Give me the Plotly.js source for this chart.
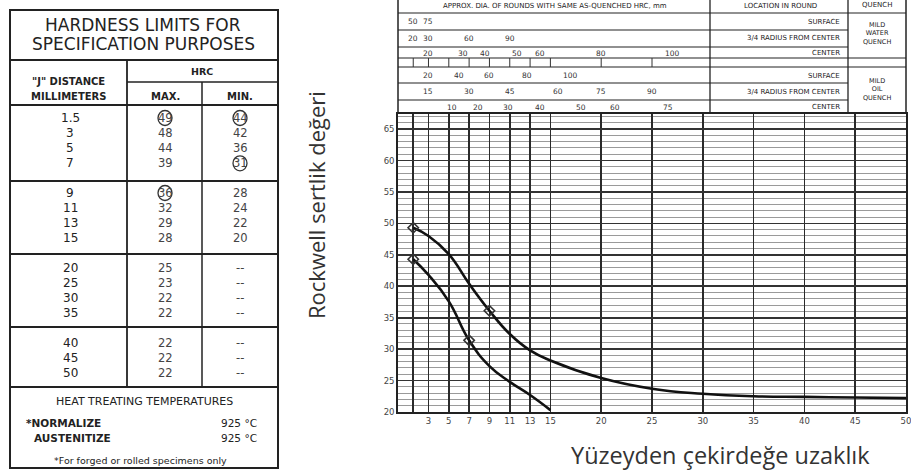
<!DOCTYPE html>
<html><head><meta charset="utf-8">
<script src="https://cdn.plot.ly/plotly-3.0.1.min.js"></script>
<style>html,body{margin:0;padding:0;background:#fff;}#chart{width:911px;height:475px;}</style>
</head><body><div id="chart"></div>
<script>
// ---------- DATA ----------
// table (hardness limits for specification purposes)
const jDist  = [1.5, 3, 5, 7, 9, 11, 13, 15, 20, 25, 30, 35, 40, 45, 50];
const hrcMax = [49, 48, 44, 39, 36, 32, 29, 28, 25, 23, 22, 22, 22, 22, 22];
const hrcMin = [44, 42, 36, 31, 28, 24, 22, 20, null, null, null, null, null, null, null];
const circledMax = [1.5, 9];
const circledMin = [1.5, 7];
const rowGroups = [4, 4, 4, 3];
// band curves as drawn on the chart
const curveMaxJ = [1.5, 3, 5, 7, 9, 11, 13, 15, 20, 25, 30, 35, 40, 45, 50];
const curveMax  = [49.3, 48.0, 45.1, 40.4, 36.1, 32.4, 29.8, 28.2, 25.4, 23.7, 22.9, 22.5, 22.4, 22.3, 22.2];
const curveMinJ = [1.5, 3, 5, 7, 9, 11, 13, 15];
const curveMin  = [44.3, 41.8, 37.6, 31.4, 27.3, 24.8, 22.7, 20.3];
// axes
const xTickVals = [1.5, 3, 5, 7, 9, 11, 13, 15, 20, 25, 30, 35, 40, 45, 50];
const xTickText = ['', '3', '5', '7', '9', '11', '13', '15', '20', '25', '30', '35', '40', '45', '50'];
// header diameter scales (label, J-distance where it sits)
const wSurfLab = ['50', '75'];            const wSurfJ = [1.5, 3];
const wRadLab  = ['20', '30', '60', '90']; const wRadJ  = [1.5, 3, 7, 11];
const wCenLab  = ['20', '30', '40', '50', '60', '80', '100']; const wCenJ = [3, 6.4, 8.6, 11.7, 14, 20, 27];
const oSurfLab = ['20', '40', '60', '80', '100']; const oSurfJ = [3, 6, 9, 12.7, 17];
const oRadLab  = ['15', '30', '45', '60', '75', '90']; const oRadJ = [3, 7, 11, 15.7, 20, 25];
const oCenLab  = ['10', '20', '30', '40', '50', '60', '75']; const oCenJ = [5.3, 7.9, 10.8, 14, 18, 21.4, 26.6];
const locLabels = ['SURFACE', '3/4 RADIUS FROM CENTER', 'CENTER'];

// ---------- GEOMETRY HELPERS ----------
const L = 398, R = 906, T = 114, B = 412;
const px = x => (x - L) / (R - L);
const py = y => (B - y) / (B - T);
const shapes = [];
const ann = [];
const FONT = 'DejaVu Sans';
function hl(x0, x1, y, w, c) { shapes.push({type:'line', xref:'paper', yref:'paper', x0:px(x0), x1:px(x1), y0:py(y), y1:py(y), line:{color:c||'#222', width:w||1.2}}); }
function vl(x, y0, y1, w, c) { shapes.push({type:'line', xref:'paper', yref:'paper', x0:px(x), x1:px(x), y0:py(y0), y1:py(y1), line:{color:c||'#222', width:w||1.2}}); }
function txt(text, x, y, size, opts) {
  opts = opts || {};
  ann.push(Object.assign({text:text, xref:'paper', yref:'paper', x:px(x), y:py(y), showarrow:false,
    xanchor:'center', yanchor:'middle', font:{family:opts.family||FONT, size:size, color:opts.color||'#222'}}, opts.extra||{}));
}

// ---------- LEFT TABLE ----------
shapes.push({type:'rect', xref:'paper', yref:'paper', x0:px(10), x1:px(278), y0:py(10), y1:py(468), line:{color:'#222', width:2}});
hl(10, 278, 60, 1.8);
hl(127, 278, 82, 1.3);
hl(10, 278, 105, 2.2);
hl(10, 278, 181, 1.8);
hl(10, 278, 254, 1.8);
hl(10, 278, 327, 1.8);
hl(10, 278, 387, 2.2);
vl(127, 60, 387, 1.8);
vl(202, 82, 387, 1.5);
txt('HARDNESS LIMITS FOR', 143, 25, 17);
txt('SPECIFICATION PURPOSES', 143, 44, 17);
txt('<b>"J" DISTANCE</b>', 68, 82, 10);
txt('<b>MILLIMETERS</b>', 68, 96, 10);
txt('<b>HRC</b>', 202, 71, 9.5);
txt('<b>MAX.</b>', 165, 96, 10);
txt('<b>MIN.</b>', 240, 96, 10);
const rowY = [];
rowGroups.forEach((n, g) => {
  for (let k = 0; k < n; k++) { rowY.push(118 + g * 75 + k * 15.1); }
});
jDist.forEach((d, i) => {
  const y = rowY[i];
  txt(String(d), 70, y, 12);
  txt(String(hrcMax[i]), 165, y, 11.5, {color:'#444'});
  txt(hrcMin[i] === null ? '--' : String(hrcMin[i]), 240, y, 11.5, {color:'#444'});
});
function circ(cx, cy) {
  shapes.push({type:'circle', xref:'paper', yref:'paper', x0:px(cx-7), x1:px(cx+7), y0:py(cy+7.5), y1:py(cy-7.5), line:{color:'#333', width:1.3}});
}
circledMax.forEach(d => circ(165, rowY[jDist.indexOf(d)]));
circledMin.forEach(d => circ(240, rowY[jDist.indexOf(d)]));
txt('HEAT TREATING TEMPERATURES', 144, 401, 11);
txt('<b>*NORMALIZE</b>', 24, 423, 10.5, {extra:{xanchor:'left'}});
txt('925 °C', 259, 423, 10.5, {extra:{xanchor:'right'}});
txt('<b>AUSTENITIZE</b>', 32, 438, 10.5, {extra:{xanchor:'left'}});
txt('925 °C', 259, 438, 10.5, {extra:{xanchor:'right'}});
txt('*For forged or rolled specimens only', 140, 460, 9.5);

// ---------- HEADER ABOVE PLOT ----------
const hRows = [13, 30, 47, 58, 67, 83, 100];
hRows.forEach(y => hl(L, 848, y, 1.1));
[13, 58, 67].forEach(y => hl(848, R, y, 1.1));
vl(L, 0, T, 1.5);
vl(710, 0, T, 1.3);
vl(848, 0, T, 1.3);
vl(R, 0, T, 1.5);
// tick marks in separator band
xTickVals.filter(v => v <= 25).forEach(v => {
  shapes.push({type:'line', xref:'x', yref:'paper', x0:v, x1:v, y0:py(58), y1:py(67), line:{color:'#333', width:1}});
});
txt('APPROX. DIA. OF ROUNDS WITH SAME AS-QUENCHED HRC, mm', 555, 6, 7);
txt('LOCATION IN ROUND', 780, 6, 7);
txt('QUENCH', 877, 5, 7);
function scaleRow(labels, js, y) {
  labels.forEach((lab, i) => ann.push({text:lab, xref:'x', yref:'paper', x:js[i], y:py(y), showarrow:false,
    xanchor:'center', yanchor:'middle', font:{family:FONT, size:7.5, color:'#333'}}));
}
scaleRow(wSurfLab, wSurfJ, 21.5);
scaleRow(wRadLab, wRadJ, 38.5);
scaleRow(wCenLab, wCenJ, 53);
scaleRow(oSurfLab, oSurfJ, 75.5);
scaleRow(oRadLab, oRadJ, 91.5);
scaleRow(oCenLab, oCenJ, 107);
[[21.5, 0], [38.5, 1], [53, 2], [75.5, 0], [91.5, 1], [107, 2]].forEach(([y, k]) => {
  txt(locLabels[k], 842, y, 7, {extra:{xanchor:'right'}});
});
txt('MILD<br>WATER<br>QUENCH', 877, 34, 6.5);
txt('MILD<br>OIL<br>QUENCH', 877, 90, 6.5);

// ---------- AXIS TITLES ----------
txt('Rockwell sertlik değeri', 316, 205, 22, {color:'#333', family:'Open Sans', extra:{textangle:-90}});
txt('Yüzeyden çekirdeğe uzaklık', 720, 455, 23.5, {color:'#333', family:'Open Sans'});

// ---------- TRACES ----------
const traces = [
  {x: curveMaxJ, y: curveMax, mode:'lines', name:'MAX', line:{color:'#111', width:2.6, shape:'spline', smoothing:1.3}},
  {x: curveMinJ, y: curveMin, mode:'lines', name:'MIN', line:{color:'#111', width:2.6, shape:'spline', smoothing:1.3}},
  {x: circledMax, y: circledMax.map(d => curveMax[curveMaxJ.indexOf(d)]), mode:'markers', name:'MAX pts',
   marker:{symbol:'diamond-open', size:8, color:'#333', line:{width:1.6, color:'#333'}}},
  {x: circledMin, y: circledMin.map(d => curveMin[curveMinJ.indexOf(d)]), mode:'markers', name:'MIN pts',
   marker:{symbol:'diamond-open', size:8, color:'#333', line:{width:1.6, color:'#333'}}}
];

const layout = {
  width: 911, height: 475,
  margin: {l: L, r: 911 - R, t: T, b: 475 - B, pad: 0},
  paper_bgcolor: '#fff', plot_bgcolor: '#fff',
  showlegend: false,
  xaxis: {range: [0, 50], tickmode:'array', tickvals: xTickVals, ticktext: xTickText,
    showgrid: true, gridcolor: '#2a2a2a', gridwidth: 1.6, zeroline: false,
    showline: true, linecolor: '#222', linewidth: 1.8, mirror: true, ticks: '',
    ticklabeloverflow: 'allow',
    tickfont: {family: FONT, size: 8.5, color: '#444'}},
  yaxis: {range: [20, 67.4], tickmode:'linear', tick0: 20, dtick: 5,
    showgrid: true, gridcolor: '#333', gridwidth: 1.6, zeroline: false,
    minor: {tickmode:'linear', tick0: 20, dtick: 1, showgrid: true, gridcolor: '#9a9a9a', gridwidth: 1},
    showline: true, linecolor: '#222', linewidth: 1.8, mirror: true, ticks: '',
    tickfont: {family: FONT, size: 8.5, color: '#444'}},
  shapes: shapes,
  annotations: ann
};
Plotly.newPlot('chart', traces, layout, {displayModeBar: false, staticPlot: true});
</script></body></html>
